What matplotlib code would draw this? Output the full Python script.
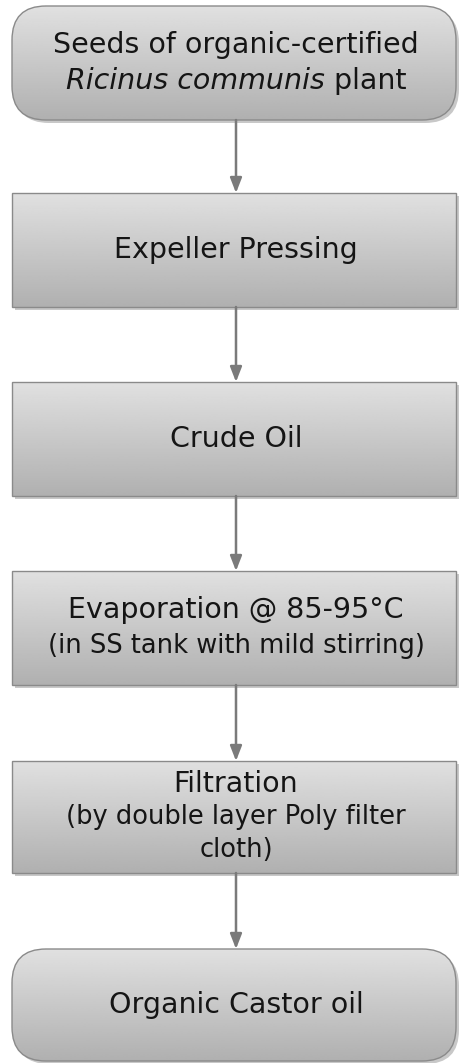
import numpy as np
import matplotlib.pyplot as plt
from matplotlib.patches import FancyBboxPatch

# flowchart steps, top to bottom
steps = [
    "Seeds of organic-certified\n",
    "Expeller Pressing",
    "Crude Oil",
    "Evaporation @ 85-95°C\n(in SS tank with mild stirring)",
    "Filtration\n(by double layer Poly filter\ncloth)",
    "Organic Castor oil",
]
shapes = ["round", "rect", "rect", "rect", "rect", "round"]
main_size = 20.5
sub_size = 18.5

# layout in pixels (top y, bottom y)
tops = [6, 193, 382, 571, 761, 949]
bottoms = [120, 307, 496, 685, 873, 1061]
x0, x1 = 12, 456
cx = 236

W, H = 459, 1063
fig = plt.figure(figsize=(W / 100, H / 100), dpi=100)
ax = fig.add_axes([0, 0, 1, 1])
ax.set_xlim(0, W)
ax.set_ylim(H, 0)
ax.axis("off")

grad = np.linspace(0.88, 0.69, 256).reshape(-1, 1)
font = "DejaVu Sans"

for i in range(len(steps)):
    t, b = tops[i], bottoms[i]
    if shapes[i] == "round":
        style = "round,pad=0,rounding_size=34"
    else:
        style = "square,pad=0"
    # shadow
    sh = FancyBboxPatch((x0 + 3, t + 3), x1 - x0, b - t, boxstyle=style,
                        fc="#c8c8c8", ec="none", zorder=1)
    ax.add_patch(sh)
    box = FancyBboxPatch((x0, t), x1 - x0, b - t, boxstyle=style,
                         fc="none", ec="#8a8a8a", lw=1.0, zorder=3)
    ax.add_patch(box)
    im = ax.imshow(grad, cmap="gray", vmin=0, vmax=1, aspect="auto",
                   extent=[x0, x1, b, t], zorder=2)
    im.set_clip_path(box)

    lines = steps[i].split("\n")
    n = len(lines)
    spacing = 33 if n > 2 else 36
    mid = (t + b) / 2
    for j, ln in enumerate(lines):
        y = mid + (j - (n - 1) / 2) * spacing
        size = main_size if (j == 0 or i == 0) else sub_size
        if i == 0 and j == 1:
            continue
        ax.text(cx, y, ln, ha="center", va="center", fontsize=size,
                family=font, color="#151515", zorder=4)

# second line of the first box: italic species name + "plant"
fig.canvas.draw()
r = fig.canvas.get_renderer()
y2 = (tops[0] + bottoms[0]) / 2 + 18
t1 = ax.text(0, y2, "Ricinus communis", fontsize=main_size, style="italic",
             family=font, va="center", color="#151515", zorder=4)
t2 = ax.text(0, y2, " plant", fontsize=main_size, family=font, va="center",
             color="#151515", zorder=4)
w1 = t1.get_window_extent(r).width
w2 = t2.get_window_extent(r).width
left = cx - (w1 + w2) / 2
t1.set_x(left)
t2.set_x(left + w1)

# arrows between boxes
for i in range(len(steps) - 1):
    ax.annotate("", xy=(cx, tops[i + 1]), xytext=(cx, bottoms[i]),
                arrowprops=dict(arrowstyle="-|>,head_length=0.9,head_width=0.35",
                                color="#7a7a7a", lw=1.8, shrinkA=0, shrinkB=0),
                zorder=5)

fig.savefig("out.png", dpi=100, facecolor="white")
